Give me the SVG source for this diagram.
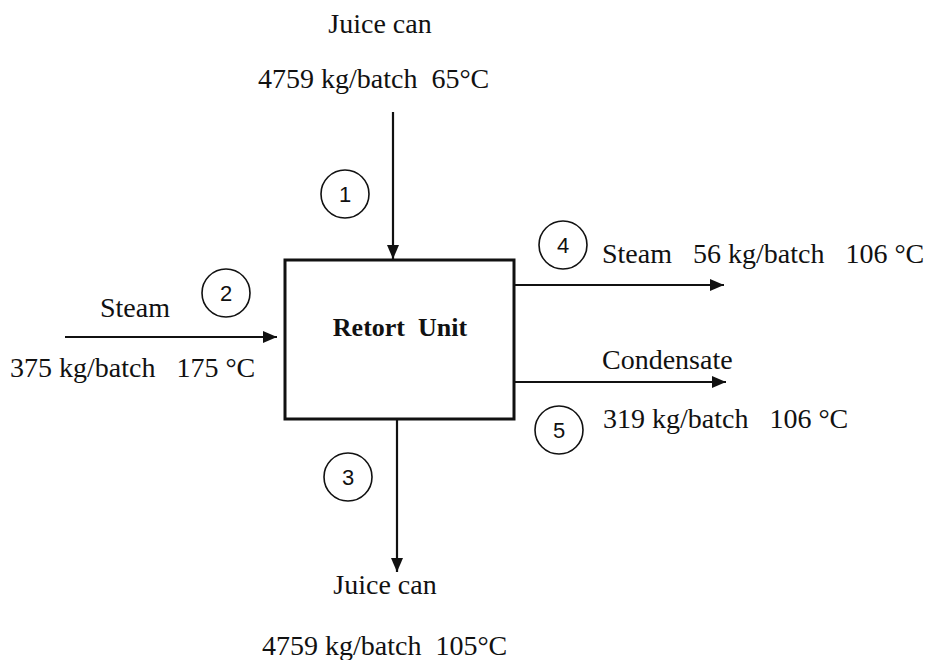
<svg xmlns="http://www.w3.org/2000/svg" width="935" height="660" viewBox="0 0 935 660">
<style>
text{font-family:"Liberation Serif","Times New Roman",serif;font-size:28px;fill:#111}
.b{font-weight:bold;font-size:26px}
.n{font-family:"Liberation Sans",Arial,sans-serif;font-size:22px}
.c{fill:none;stroke:#111;stroke-width:1.6}
.a{stroke:#111;stroke-width:2.2;fill:none}
</style>
<defs>
<marker id="ah" viewBox="0 0 14 12" refX="14" refY="6" markerWidth="14" markerHeight="12" markerUnits="userSpaceOnUse" orient="auto">
<path d="M0,0 L14,6 L0,12 Z" fill="#111"/>
</marker>
</defs>
<rect width="935" height="660" fill="#fff"/>
<g id="retort">
<rect x="285" y="260" width="229" height="159" fill="#fff" stroke="#111" stroke-width="3"/>
<text class="b" x="400" y="336" text-anchor="middle" xml:space="preserve">Retort  Unit</text>
</g>
<g id="connectors">
<line class="a" x1="393" y1="112" x2="393" y2="259" marker-end="url(#ah)"/>
<line class="a" x1="65" y1="337" x2="277" y2="337" marker-end="url(#ah)"/>
<line class="a" x1="397" y1="420" x2="397" y2="572" marker-end="url(#ah)"/>
<line class="a" x1="515" y1="285" x2="724" y2="285" marker-end="url(#ah)"/>
<line class="a" x1="515" y1="382" x2="726" y2="382" marker-end="url(#ah)"/>
</g>
<g id="s1">
<circle class="c" cx="345" cy="194" r="24"/>
<text class="n" x="345" y="202" text-anchor="middle">1</text>
<text x="380" y="33" text-anchor="middle">Juice can</text>
<text x="258" y="88" xml:space="preserve">4759 kg/batch  65°C</text>
</g>
<g id="s2">
<circle class="c" cx="226" cy="293" r="24"/>
<text class="n" x="226" y="301" text-anchor="middle">2</text>
<text x="100" y="317">Steam</text>
<text x="10" y="377" xml:space="preserve">375 kg/batch   175 °C</text>
</g>
<g id="s3">
<circle class="c" cx="348" cy="477" r="24"/>
<text class="n" x="348" y="485" text-anchor="middle">3</text>
<text x="385" y="594" text-anchor="middle">Juice can</text>
<text x="262" y="655" xml:space="preserve">4759 kg/batch  105°C</text>
</g>
<g id="s4">
<circle class="c" cx="563" cy="245" r="24"/>
<text class="n" x="563" y="253" text-anchor="middle">4</text>
<text x="602" y="263" xml:space="preserve">Steam   56 kg/batch   106 °C</text>
</g>
<g id="s5">
<circle class="c" cx="559" cy="430" r="24"/>
<text class="n" x="559" y="438" text-anchor="middle">5</text>
<text x="602" y="369">Condensate</text>
<text x="603" y="428" xml:space="preserve">319 kg/batch   106 °C</text>
</g>
</svg>
